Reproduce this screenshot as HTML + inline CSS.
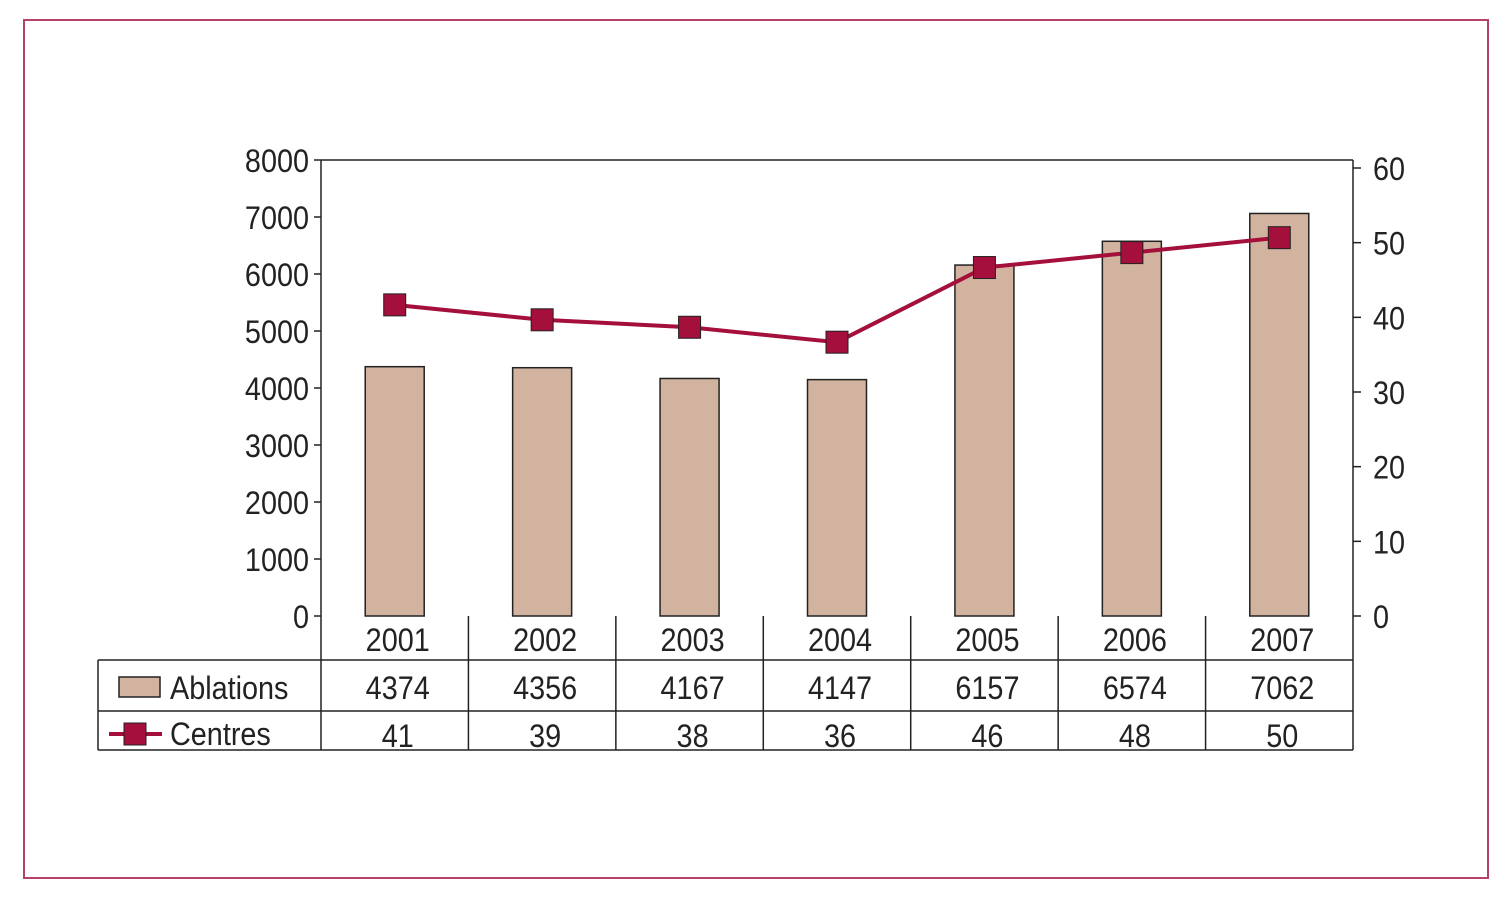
<!DOCTYPE html>
<html><head><meta charset="utf-8"><style>
html,body{margin:0;padding:0;background:#fff;}
svg text{font-family:"Liberation Sans",sans-serif;font-size:32px;fill:#222;}
</style></head><body>
<svg id="c" width="1512" height="908" xmlns="http://www.w3.org/2000/svg">
<rect x="24" y="20" width="1464" height="858" fill="none" stroke="#b5416b" stroke-width="2"/>
<g id="g"></g>
</svg>
<script>
const years=["2001","2002","2003","2004","2005","2006","2007"];
const ablations=[4374,4356,4167,4147,6157,6574,7062];
const centres=[41,39,38,36,46,48,50];
const leftTicks=[0,1000,2000,3000,4000,5000,6000,7000,8000];
const rightTicks=[0,10,20,30,40,50,60];
const NS="http://www.w3.org/2000/svg";
const g=document.getElementById('g');
const X0=321,X1=1353,Y0=616,YT=160;
const band=(X1-X0)/years.length;
const yL=v=>Y0-(v/8000)*(Y0-YT);
const yR=v=>Y0-(v/60)*(Y0-168);
const xc=i=>X0+band*(i+0.5);
function el(t,a,txt){const e=document.createElementNS(NS,t);for(const k in a)e.setAttribute(k,a[k]);if(txt!==undefined)e.textContent=txt;g.appendChild(e);return e;}
function tx(x,y,anchor,s){return el('text',{transform:'translate('+x+','+y+') scale(0.9,1)','text-anchor':anchor},s);}
ablations.forEach((v,i)=>{
 const b=el('rect',{x:xc(i)-29.5,y:yL(v),width:59,height:Y0-yL(v),fill:'#d2b39f',stroke:'#222','stroke-width':1.5});
 
 
});
let a=el('line',{x1:X0,y1:YT,x2:X0,y2:Y0,stroke:'#222','stroke-width':1.5});

a=el('line',{x1:X1,y1:YT,x2:X1,y2:Y0,stroke:'#222','stroke-width':1.5});

a=el('line',{x1:X0,y1:YT,x2:X1,y2:YT,stroke:'#222','stroke-width':1.5});

leftTicks.forEach(v=>{
 el('line',{x1:X0-7,y1:yL(v),x2:X0,y2:yL(v),stroke:'#222','stroke-width':1.5});
 const t=tx(X0-12,yL(v)+12,'end',v);
 
});
rightTicks.forEach(v=>{
 el('line',{x1:X1,y1:yR(v),x2:X1+8,y2:yR(v),stroke:'#222','stroke-width':1.5});
 const t=tx(X1+20,yR(v)+12,'start',v);
 
});
const pl=el('polyline',{points:centres.map((v,i)=>xc(i)+','+(yR(v)-5)).join(' '),fill:'none',stroke:'#a50f3c','stroke-width':4});

centres.forEach((v,i)=>{
 const m=el('rect',{x:xc(i)-11,y:yR(v)-16,width:22,height:22,fill:'#a50f3c',stroke:'#222','stroke-width':1});
 
});
const S={stroke:'#222','stroke-width':1.5};
el('line',Object.assign({x1:98,y1:660,x2:98,y2:750},S));
el('line',Object.assign({x1:98,y1:660,x2:X1,y2:660},S));
el('line',Object.assign({x1:98,y1:711,x2:X1,y2:711},S));
el('line',Object.assign({x1:98,y1:750,x2:X1,y2:750},S));
for(let i=0;i<=years.length;i++){el('line',Object.assign({x1:X0+band*i,y1:616,x2:X0+band*i,y2:750},S));}
years.forEach((y,i)=>{
 let t=tx(xc(i)+3,651,'middle',y);
 t=tx(xc(i)+3,699,'middle',ablations[i]);
 t=tx(xc(i)+3,747,'middle',centres[i]);
});
let lg=el('rect',{x:119,y:677,width:41,height:20,fill:'#d2b39f',stroke:'#222','stroke-width':1.5});

let lt=tx(170,699,'start','Ablations');
lg=el('line',{x1:109,y1:734,x2:162,y2:734,stroke:'#a50f3c','stroke-width':4});

lg=el('rect',{x:124,y:723,width:22,height:22,fill:'#a50f3c',stroke:'#222','stroke-width':1});

lt=tx(170,745,'start','Centres');
</script>
</body></html>
